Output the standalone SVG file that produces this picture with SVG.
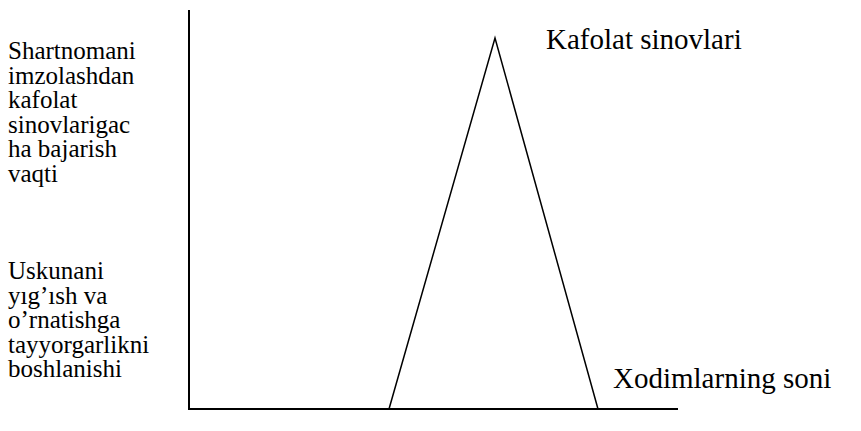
<svg xmlns="http://www.w3.org/2000/svg" width="861" height="431" viewBox="0 0 861 431">
<rect width="861" height="431" fill="#fff"/>
<g id="connectors" stroke="#000" fill="none">
<path d="M189,10 V409 H678" stroke-width="2"/>
<path d="M389,409 L495,38 L598,409" stroke-width="1.5"/>
</g>
<g id="label-top-left" fill="#000">
<text x="8" y="59" font-family="Times New Roman" font-size="25">Shartnomani</text>
<text x="8" y="84" font-family="Times New Roman" font-size="25">imzolashdan</text>
<text x="8" y="108" font-family="Times New Roman" font-size="25">kafolat</text>
<text x="8" y="133" font-family="Times New Roman" font-size="25">sinovlarigac</text>
<text x="8" y="157" font-family="Times New Roman" font-size="25">ha bajarish</text>
<text x="8" y="182" font-family="Times New Roman" font-size="25">vaqti</text>
</g>
<g id="label-bottom-left" fill="#000">
<text x="8" y="279" font-family="Times New Roman" font-size="25">Uskunani</text>
<text x="8" y="304" font-family="Times New Roman" font-size="25">yıg’ısh va</text>
<text x="8" y="328" font-family="Times New Roman" font-size="25">o’rnatishga</text>
<text x="8" y="353" font-family="Times New Roman" font-size="25">tayyorgarlikni</text>
<text x="8" y="377" font-family="Times New Roman" font-size="25">boshlanishi</text>
</g>
<g id="label-peak" fill="#000">
<text x="546" y="49" font-family="Times New Roman" font-size="29">Kafolat sinovlari</text>
</g>
<g id="label-axis" fill="#000">
<text x="613" y="388" font-family="Times New Roman" font-size="29">Xodimlarning soni</text>
</g>
</svg>
